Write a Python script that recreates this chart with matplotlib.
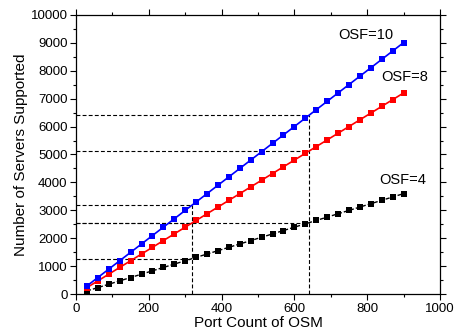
import matplotlib
matplotlib.use('agg')
import matplotlib.pyplot as plt
from matplotlib.ticker import MultipleLocator

plt.rcParams['font.family'] = ['Liberation Sans', 'DejaVu Sans']

# port count of the OSM
portCount = [30, 60, 90, 120, 150, 180, 210, 240, 270, 300,
             330, 360, 390, 420, 450, 480, 510, 540, 570, 600,
             630, 660, 690, 720, 750, 780, 810, 840, 870, 900]
# servers supported, one list per OSF
osf10 = [300, 600, 900, 1200, 1500, 1800, 2100, 2400, 2700, 3000,
         3300, 3600, 3900, 4200, 4500, 4800, 5100, 5400, 5700, 6000,
         6300, 6600, 6900, 7200, 7500, 7800, 8100, 8400, 8700, 9000]
osf8 = [240, 480, 720, 960, 1200, 1440, 1680, 1920, 2160, 2400,
        2640, 2880, 3120, 3360, 3600, 3840, 4080, 4320, 4560, 4800,
        5040, 5280, 5520, 5760, 6000, 6240, 6480, 6720, 6960, 7200]
osf4 = [120, 240, 360, 480, 600, 720, 840, 960, 1080, 1200,
        1320, 1440, 1560, 1680, 1800, 1920, 2040, 2160, 2280, 2400,
        2520, 2640, 2760, 2880, 3000, 3120, 3240, 3360, 3480, 3600]

# guide lines: (port, servers) pairs marked with dashes
guidePorts = [320, 640]
guideLevels320 = [3200, 2560, 1280]
guideLevels640 = [6400, 5120, 2560]

fig = plt.figure(figsize=(4.54, 3.33), dpi=100)
ax = fig.add_axes([0.1674, 0.1162, 0.8016, 0.8397])

dash = dict(color='black', lw=0.8, dashes=(3.5, 2))
for lvl in guideLevels320:
    ax.plot([0, guidePorts[0]], [lvl, lvl], **dash)
for lvl in guideLevels640:
    ax.plot([0, guidePorts[1]], [lvl, lvl], **dash)
ax.plot([guidePorts[0], guidePorts[0]], [0, guideLevels320[0]], **dash)
ax.plot([guidePorts[1], guidePorts[1]], [0, guideLevels640[0]], **dash)

ax.plot(portCount, osf4, color='black', lw=1.0, dashes=(3, 1.5),
        marker='s', markersize=4.6, markeredgewidth=0)
ax.plot(portCount, osf8, color='red', lw=1.2,
        marker='s', markersize=4.6, markeredgewidth=0)
ax.plot(portCount, osf10, color='blue', lw=1.2,
        marker='s', markersize=4.6, markeredgewidth=0)

ax.text(720, 9270, 'OSF=10', fontsize=10.5, va='center', ha='left')
ax.text(840, 7770, 'OSF=8', fontsize=10.5, va='center', ha='left')
ax.text(832, 4090, 'OSF=4', fontsize=10.5, va='center', ha='left')

ax.set_xlim(0, 1000)
ax.set_ylim(0, 10000)
ax.xaxis.set_major_locator(MultipleLocator(200))
ax.xaxis.set_minor_locator(MultipleLocator(100))
ax.yaxis.set_major_locator(MultipleLocator(1000))
ax.yaxis.set_minor_locator(MultipleLocator(500))
ax.tick_params(which='both', direction='out', top=True, right=True,
               labelsize=9.5, width=0.8, pad=2)
ax.tick_params(which='major', length=4)
ax.tick_params(which='minor', length=2.5)
for s in ax.spines.values():
    s.set_linewidth(0.9)

ax.set_xlabel('Port Count of OSM', fontsize=11, labelpad=1)
ax.set_ylabel('Number of Servers Supported', fontsize=11, labelpad=2)

fig.savefig('out.png', dpi=100)
